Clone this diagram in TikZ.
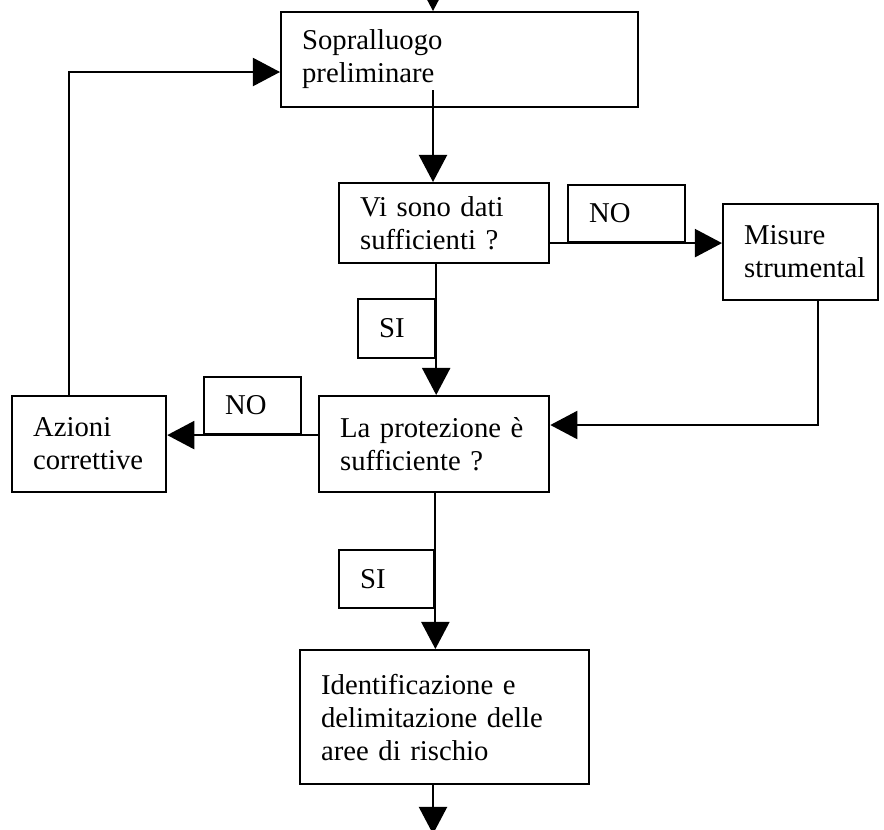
\documentclass[tikz,border=0pt]{standalone}
\usepackage{fontspec}
\setmainfont{Liberation Serif}
\usetikzlibrary{arrows.meta,calc}
\tikzstyle{box}=[draw, line width=0.9pt, anchor=north west, align=left, inner xsep=8.8pt, inner ysep=0pt, font=\fontsize{12}{13.8}\selectfont]
\tikzstyle{line}=[draw, line width=0.9pt, -{Triangle[length=11.3pt,width=11.7pt]}]
\hyphenpenalty=10000
\exhyphenpenalty=10000

\begin{document}
\begin{tikzpicture}[x=0.418pt, y=-0.418pt]
    \useasboundingbox (0,0) rectangle (884,829);
    \node[box, text width=131.7pt, minimum height=39.7pt] (sop) at (280,11) {Sopralluogo\\preliminare};
    \node[box, text width=70.2pt, minimum height=33.4pt] (vi) at (338,182) {Vi~sono~dati\\sufficienti~?};
    \node[box, text width=31.4pt, minimum height=23.8pt] (no1) at (567,184) {NO};
    \node[box, text width=47.2pt, minimum height=40.1pt] (mis) at (722,203) {Misure\\strumental};
    \node[box, text width=14.6pt, minimum height=24.7pt] (si1) at (357,298) {SI};
    \node[box, text width=78.6pt, minimum height=40.1pt] (pro) at (318,395) {La~protezione~è\\sufficiente~?};
    \node[box, text width=23pt, minimum height=23.8pt] (no2) at (203,376) {NO};
    \node[box, text width=46.8pt, minimum height=40.1pt] (azi) at (11,395) {Azioni\\correttive};
    \node[box, text width=22.2pt, minimum height=24.2pt] (si2) at (338,549) {SI};
    \node[box, text width=103.2pt, minimum height=56pt] (ide) at (299,649) {Identificazione~e\\delimitazione~delle\\aree~di~rischio};
    \coordinate (spine) at (433,-20);
    \coordinate (out) at (433,834);
    \coordinate (ret) at (818,425);
    \coordinate (back) at (69,72);
    \path[line] (spine) -- (sop.north -| spine);
    \path[line] ($(sop.south -| spine)+(0,-18)$) -- (vi.north -| spine);
    \path[line] (vi.east |- no1.south) -- (mis.west |- no1.south);
    \path[line] (vi.south -| si1.east) -- (pro.north -| si1.east);
    \path[line] (mis.south -| ret) -- (ret) -- (ret -| pro.east);
    \path[line] (pro.west |- no2.south) -- (azi.east |- no2.south);
    \path[line] (azi.north -| back) -- (back) -- (back -| sop.west);
    \path[line] (pro.south -| si2.east) -- (ide.north -| si2.east);
    \path[line] (ide.south -| out) -- (out);
\end{tikzpicture}
\end{document}
